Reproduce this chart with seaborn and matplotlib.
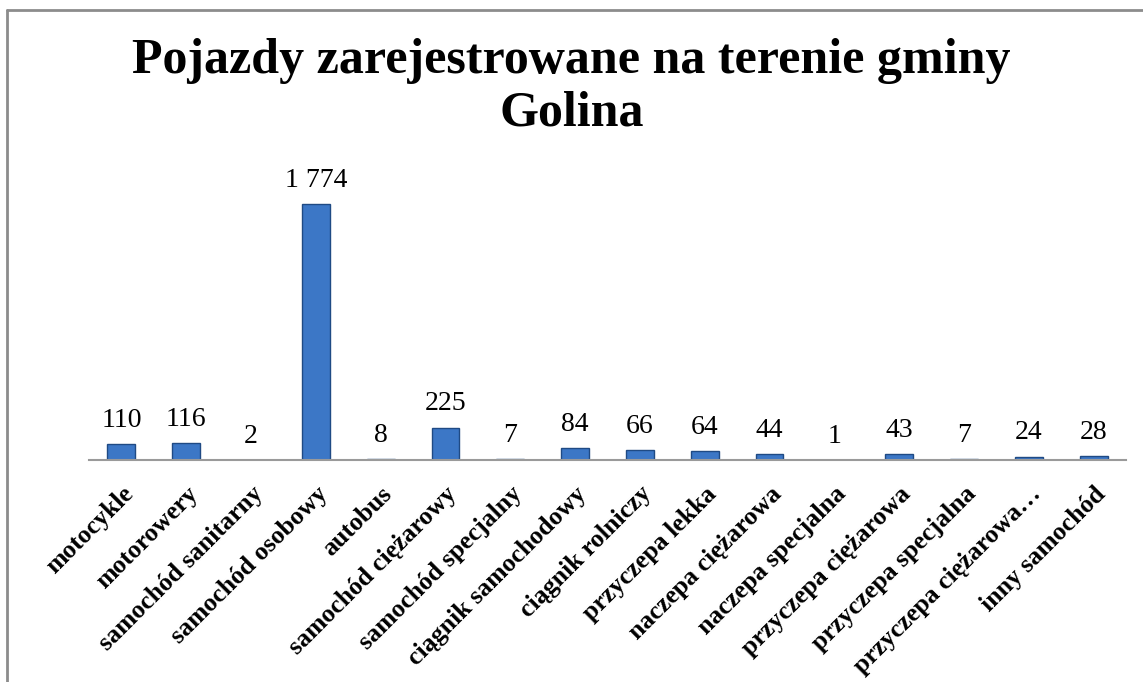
import matplotlib
matplotlib.use("Agg")
import matplotlib.pyplot as plt
import seaborn as sns
import pandas as pd
from matplotlib.lines import Line2D

categories = ["motocykle", "motorowery", "samochód sanitarny", "samochód osobowy",
              "autobus", "samochód ciężarowy", "samochód specjalny", "ciągnik samochodowy",
              "ciągnik rolniczy", "przyczepa lekka", "naczepa ciężarowa", "naczepa specjalna",
              "przyczepa ciężarowa", "przyczepa specjalna", "przyczepa ciężarowa…", "inny samochód"]
values = [110, 116, 2, 1774, 8, 225, 7, 84, 66, 64, 44, 1, 43, 7, 24, 28]
value_labels = ["110", "116", "2", "1 774", "8", "225", "7", "84", "66", "64", "44", "1",
                "43", "7", "24", "28"]
title = "Pojazdy zarejestrowane na terenie gminy\nGolina"

df = pd.DataFrame({"kategoria": categories, "liczba": values})

sns.set_style("white")
plt.rcParams["font.family"] = ["Liberation Serif", "DejaVu Serif"]
plt.rcParams["text.color"] = "black"
plt.rcParams["xtick.color"] = "black"

W, H = 1143, 682
fig = plt.figure(figsize=(W / 100, H / 100), dpi=100)
ax_left, ax_right = 89 / W, 1126 / W
ax_bottom = 1 - 460 / H
ymax = 2000
ax_top = 1 - (460 - ymax * 256 / 1774) / H
ax = fig.add_axes([ax_left, ax_bottom, ax_right - ax_left, ax_top - ax_bottom])

sns.barplot(data=df, x="kategoria", y="liczba", ax=ax, color="#3C77C6",
            edgecolor="#1F4A84", linewidth=1.0, width=0.43, saturation=1)
ax.set_ylim(0, ymax)
ax.set_xlim(-0.5, len(categories) - 0.5)

for i, (v, lab) in enumerate(zip(values, value_labels)):
    ax.annotate(lab, (i, v), xytext=(0, 8), textcoords="offset points",
                ha="center", va="bottom", fontsize=20, color="black")

ax.set_xticks(range(len(categories)))
ax.set_xticklabels(categories, rotation=45, ha="right", rotation_mode="anchor",
                   fontsize=18.5, fontweight="bold", color="black")
ax.tick_params(axis="x", length=0, pad=16)
ax.set_yticks([])
ax.set_xlabel("")
ax.set_ylabel("")
for s in ["top", "right", "left"]:
    ax.spines[s].set_visible(False)
ax.spines["bottom"].set_color("#9A9A9A")
ax.spines["bottom"].set_linewidth(1.5)

fig.text(0.5, 1 - 38 / H, title, ha="center", va="top", fontsize=36,
         fontweight="bold", linespacing=1.2, color="black")

# outer chart frame
fig.add_artist(Line2D([7 / W, 1.0], [1 - 10 / H, 1 - 10 / H], color="#8C8C8C", lw=2,
                      transform=fig.transFigure))
fig.add_artist(Line2D([7 / W, 7 / W], [0, 1 - 10 / H], color="#8C8C8C", lw=2,
                      transform=fig.transFigure))

fig.savefig("out.png", dpi=100)
